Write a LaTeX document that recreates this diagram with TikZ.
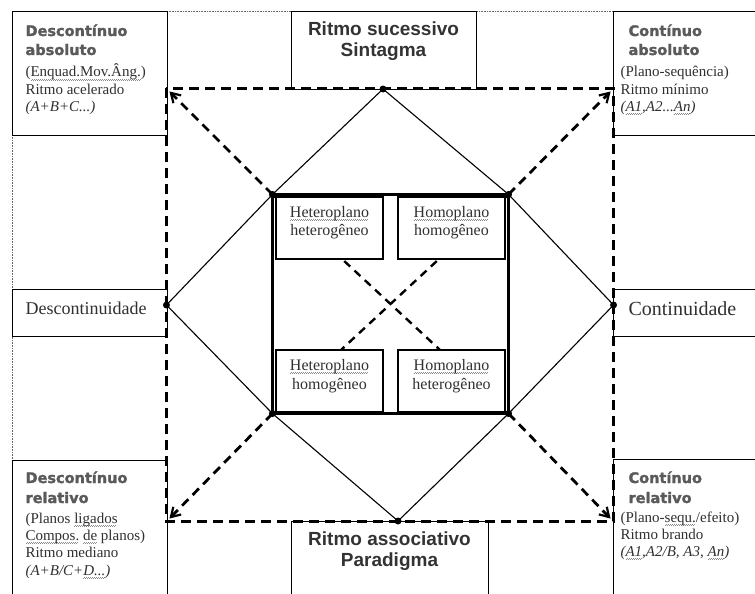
\documentclass[tikz,border=0pt]{standalone}
\usepackage{fontspec}
\setmainfont{Liberation Serif}
\newfontfamily\arialfont{Liberation Sans}
\newfontfamily\blackfont{DejaVu Sans}[BoldFeatures={FakeBold=1.6}]
\usetikzlibrary{arrows.meta,positioning}
\definecolor{headgray}{HTML}{5A5A5A}
\definecolor{textgray}{HTML}{303030}
\definecolor{wavegray}{HTML}{8C8C8C}
\newsavebox{\sqbox}
\newcommand{\sq}[1]{\sbox{\sqbox}{#1}\rlap{\textcolor{wavegray}{\raisebox{-3pt}{\hbox to \wd\sqbox{%
  \leaders\hbox to 2pt{\rule[-0.4pt]{1pt}{0.7pt}\rule[0.3pt]{1pt}{0.7pt}}\hfill}}}}\usebox{\sqbox}}

\begin{document}
\begin{tikzpicture}[x=1pt,y=-1pt]
\tikzstyle{every path}=[line width=1.1pt]
\tikzstyle{outbox}=[draw,fill=white,inner sep=0pt,anchor=north west]
\tikzstyle{inbox}=[draw,fill=white,inner sep=0pt,minimum width=107pt,minimum height=62pt]
\tikzstyle{framedash}=[line width=3pt,dash pattern=on 10pt off 6pt]
\tikzstyle{crossdash}=[line width=2.4pt,dash pattern=on 8pt off 6pt]
\tikzstyle{arrowdash}=[line width=2.8pt,dash pattern=on 9pt off 6pt]
\tikzstyle{cornerhead}=[anchor=base west,inner sep=0pt,text=headgray,
  font=\fontsize{14.5}{17}\blackfont\bfseries]
\tikzstyle{cornertext}=[anchor=base west,inner sep=0pt,text=textgray,
  font=\fontsize{15}{17}\selectfont]
\tikzstyle{midhead}=[anchor=base,inner sep=0pt,text=black!80,
  font=\fontsize{19}{21}\arialfont\bfseries]
\tikzstyle{sidetext}=[anchor=base west,inner sep=0pt,text=textgray]
\tikzstyle{innertext}=[anchor=base,inner sep=0pt,text=textgray,
  font=\fontsize{16}{18}\selectfont]
\useasboundingbox (0,0) rectangle (755,594);
\draw[black!60,line width=0.9pt,dash pattern=on 0.9pt off 0.7pt] (12,600) -- (12,11) -- (760,11);

\node[outbox,minimum width=155pt,minimum height=124pt] (da) at (12,11) {};
\node[outbox,minimum width=150pt,minimum height=124pt] (ca) at (613,11) {};
\node[outbox,minimum width=155pt,minimum height=47pt] (dd) at (12,289) {};
\node[outbox,minimum width=150pt,minimum height=47pt] (cc) at (613,289) {};
\node[outbox,minimum width=155pt,minimum height=140pt] (dr) at (12,460) {};
\node[outbox,minimum width=150pt,minimum height=141pt] (cr) at (613,459) {};
\node[outbox,minimum width=185pt,minimum height=78pt] (rs) at (291,11) {};
\node[outbox,minimum width=197pt,minimum height=80pt] (ra) at (291,521) {};

\node[inner sep=0pt,minimum width=446pt,minimum height=432pt] (fr) at (390,305) {};
\node[inner sep=0pt,minimum width=235pt,minimum height=218pt] (sq) at (390.5,304) {};
\node[inner sep=0pt,minimum width=440pt,minimum height=426pt] (tips) at (390,305) {};
\coordinate (tv) at (383,89);
\coordinate (bv) at (398,521);

\draw (tv) -- (sq.north west) -- (fr.west) -- (sq.south west) -- (bv)
  -- (sq.south east) -- (fr.east) -- (sq.north east) -- cycle;
\draw[crossdash] (sq.north west) -- (sq.south east) (sq.north east) -- (sq.south west);
\draw[line width=3.8pt] (sq.north west) rectangle (sq.south east);

\node[inbox,anchor=north west] (hh) at ([shift={(3,2)}]sq.north west) {};
\node[inbox,anchor=north east] (ho) at ([shift={(-3,2)}]sq.north east) {};
\node[inbox,anchor=south west] (hg) at ([shift={(3,-1)}]sq.south west) {};
\node[inbox,anchor=south east] (he) at ([shift={(-3,-1)}]sq.south east) {};

\draw[framedash] (fr.north west) rectangle (fr.south east);
\foreach \c in {north west,north east,south west,south east}
  \draw[arrowdash,-{Straight Barb[length=9pt,width=11pt,line width=2.2pt]}] (sq.\c) -- (tips.\c);
\foreach \p in {tv,bv,fr.west,fr.east,sq.north west,sq.north east,sq.south west,sq.south east}
  \fill (\p) circle (3.5pt);

\node[cornerhead] (da-1) at (25,36) {Descontínuo};
\node[cornerhead] (da-2) at (25,55) {absoluto};
\node[cornertext] (da-3) at (25,77) {(\sq{Enquad.Mov.Âng.})};
\node[cornertext] (da-4) at (25,94) {Ritmo acelerado};
\node[cornertext] (da-5) at (25,111) {\itshape (A+B+C...)};

\node[cornerhead] (ca-1) at (628,36) {Contínuo};
\node[cornerhead] (ca-2) at (628,55) {absoluto};
\node[cornertext] (ca-3) at (620,77) {(Plano-sequência)};
\node[cornertext] (ca-4) at (620,94) {Ritmo mínimo};
\node[cornertext] (ca-5) at (620,111) {\itshape (\sq{A1},A2...\sq{An})};

\node[cornerhead] (dr-1) at (25,483) {Descontínuo};
\node[cornerhead] (dr-2) at (25,503) {relativo};
\node[cornertext] (dr-3) at (25,523) {(Planos \sq{ligados}};
\node[cornertext] (dr-4) at (25,540) {\sq{Compos.} \sq{de} planos)};
\node[cornertext] (dr-5) at (25,557) {Ritmo mediano};
\node[cornertext] (dr-6) at (25,575) {\itshape (A+B/C+\sq{D...})};

\node[cornerhead] (cr-1) at (628,483) {Contínuo};
\node[cornerhead] (cr-2) at (628,503) {relativo};
\node[cornertext] (cr-3) at (620,522) {(Plano-\sq{sequ.}/efeito)};
\node[cornertext] (cr-4) at (620,539) {Ritmo brando};
\node[cornertext] (cr-5) at (620,556) {\itshape (\sq{A1},A2/B, A3, \sq{An})};

\node[sidetext,font=\fontsize{18}{20}\selectfont] (dd-1) at (25,314) {Descontinuidade};
\node[sidetext,font=\fontsize{20}{22}\selectfont] (cc-1) at (628,315) {Continuidade};

\node[midhead] (rs-1) at (383.5,36) {Ritmo sucessivo};
\node[midhead] (rs-2) at (383.5,57) {Sintagma};
\node[midhead] (ra-1) at (389.5,545) {Ritmo associativo};
\node[midhead] (ra-2) at (389.5,566) {Paradigma};

\node[innertext] (hh-1) at ([shift={(0,21)}]hh.north) {\sq{Heteroplano}};
\node[innertext] (hh-2) at ([shift={(0,39)}]hh.north) {heterogêneo};
\node[innertext] (ho-1) at ([shift={(0,21)}]ho.north) {\sq{Homoplano}};
\node[innertext] (ho-2) at ([shift={(0,39)}]ho.north) {homogêneo};
\node[innertext] (hg-1) at ([shift={(0,21)}]hg.north) {\sq{Heteroplano}};
\node[innertext] (hg-2) at ([shift={(0,40)}]hg.north) {homogêneo};
\node[innertext] (he-1) at ([shift={(0,21)}]he.north) {\sq{Homoplano}};
\node[innertext] (he-2) at ([shift={(0,40)}]he.north) {heterogêneo};
\end{tikzpicture}
\end{document}
